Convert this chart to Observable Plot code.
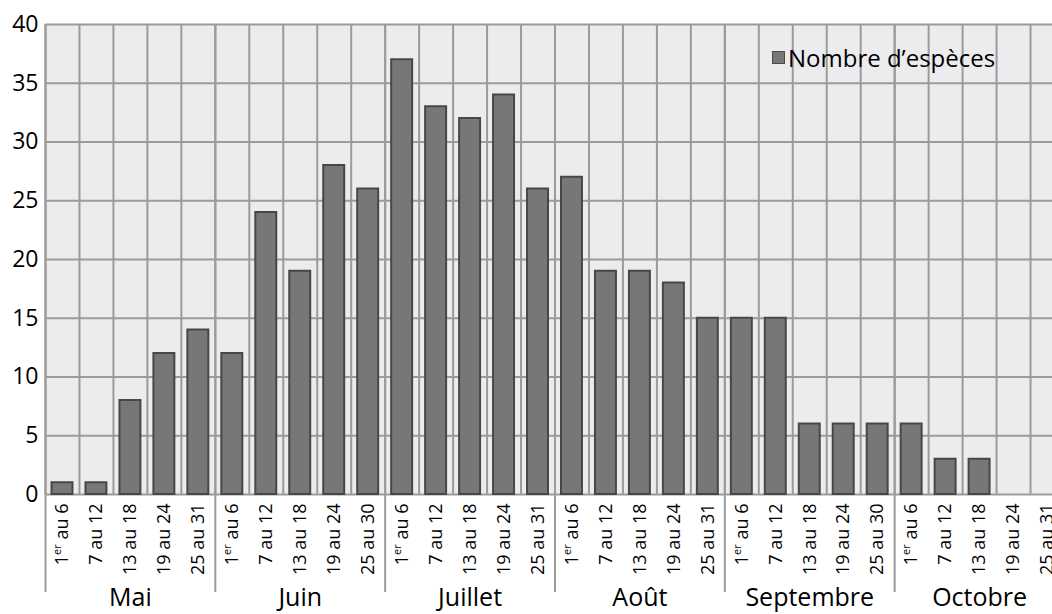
<!DOCTYPE html>
<html>
<head>
<meta charset="utf-8">
<script src="https://cdn.jsdelivr.net/npm/d3@7"></script>
<script src="https://cdn.jsdelivr.net/npm/@observablehq/plot@0.6"></script>
<style>
  html, body { margin: 0; padding: 0; background: #fff; overflow: hidden; }
  #wrap { position: relative; width: 1052px; height: 614px; }
  #legend { position: absolute; left: 772px; top: 41px; font-family: 'Open Sans', sans-serif; font-size: 24px; color: #000; display: flex; align-items: center; white-space: nowrap; }
  #legend .sw { width: 11px; height: 11px; background: #777; border: 1.5px solid #4a4a4a; margin-right: 3px; }
</style>
</head>
<body>
<div id="wrap"><div id="legend"><span class="sw"></span><span id="legtext"></span></div></div>
<script>
const months = ["Mai", "Juin", "Juillet", "Août", "Septembre", "Octobre"];
const periods = [
  ["1er au 6", "7 au 12", "13 au 18", "19 au 24", "25 au 31"],
  ["1er au 6", "7 au 12", "13 au 18", "19 au 24", "25 au 30"],
  ["1er au 6", "7 au 12", "13 au 18", "19 au 24", "25 au 31"],
  ["1er au 6", "7 au 12", "13 au 18", "19 au 24", "25 au 31"],
  ["1er au 6", "7 au 12", "13 au 18", "19 au 24", "25 au 30"],
  ["1er au 6", "7 au 12", "13 au 18", "19 au 24", "25 au 31"]
];
const especes = [
  [1, 1, 8, 12, 14],
  [12, 24, 19, 28, 26],
  [37, 33, 32, 34, 26],
  [27, 19, 19, 18, 15],
  [15, 15, 6, 6, 6],
  [6, 3, 3, 0, 0]
];
const seriesName = "Nombre d’espèces";
const yTicks = [0, 5, 10, 15, 20, 25, 30, 35, 40];

const data = [];
months.forEach((m, mi) => periods[mi].forEach((p, pi) => {
  data.push({i: mi * 5 + pi, month: m, label: p, value: especes[mi][pi]});
}));
const nCat = data.length;
const monthData = months.map((m, mi) => ({month: m, start: mi * 5, end: mi * 5 + 5}));
const boundaries = d3.range(0, nCat + 1);
const monthBounds = d3.range(0, nCat + 1, 5);

const gridColor = "#9b9b9b";

const chart = Plot.plot({
  width: 1052,
  height: 614,
  marginLeft: 45,
  marginRight: 0,
  marginTop: 24,
  marginBottom: 120,
  style: {fontFamily: "'Open Sans', sans-serif", background: "#fff", color: "#000"},
  x: {domain: [0, nCat], range: [45, 1064], axis: null},
  y: {domain: [0, 40], range: [494, 24], axis: null},
  marks: [
    Plot.frame({fill: "#ececee", stroke: null}),
    Plot.ruleY(yTicks, {stroke: gridColor, strokeWidth: 2}),
    Plot.ruleX(boundaries, {stroke: gridColor, strokeWidth: 2}),
    Plot.ruleX(monthBounds, {stroke: gridColor, strokeWidth: 2, insetBottom: -98}),
    Plot.rectY(data.filter(d => d.value > 0), {
      x1: "i", x2: d => d.i + 1, y1: 0, y2: "value",
      insetLeft: 6.5, insetRight: 6.5,
      fill: "#777777", stroke: "#474747", strokeWidth: 2
    }),
    Plot.text(yTicks, {y: d => d, text: d => String(d), frameAnchor: "left", textAnchor: "end", dx: -7, fontSize: 23, fill: "#000"}),
    Plot.text(data, {x: d => d.i + 0.5, y: 0, text: "label", rotate: -90, textAnchor: "end", dy: 9, fontSize: 18, fill: "#000"}),
    Plot.text(monthData, {x: d => (d.start + d.end) / 2, y: 0, text: "month", dy: 103, fontSize: 25, fill: "#000"})
  ]
});

// superscript "er" in "1er"
d3.select(chart).selectAll("text").each(function() {
  const t = d3.select(this);
  const s = t.text();
  if (/^1er /.test(s) && this.childNodes.length === 1) {
    const rest = s.slice(3);
    t.text("");
    t.append("tspan").text("1");
    t.append("tspan").attr("font-size", 11).attr("dy", -7).text("er");
    t.append("tspan").attr("dy", 7).text(rest);
  }
});

document.getElementById("wrap").prepend(chart);
document.getElementById("legtext").textContent = seriesName;
</script>
</body>
</html>
